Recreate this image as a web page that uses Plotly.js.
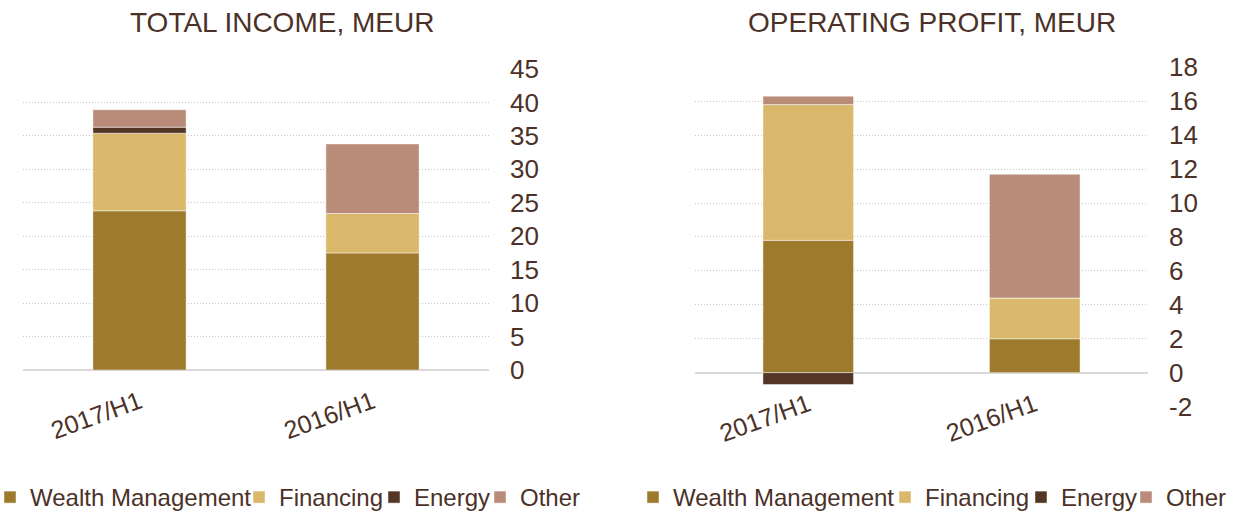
<!DOCTYPE html>
<html>
<head>
<meta charset="utf-8">
<script src="https://cdn.plot.ly/plotly-3.0.1.min.js"></script>
<style>
  html, body { margin: 0; padding: 0; background: #ffffff; }
  #chart { width: 1234px; height: 520px; }
</style>
</head>
<body>
<div id="chart"></div>
<script>
// ---- Data ----
const categories = ['2017/H1', '2016/H1'];
const seriesNames = ['Wealth Management', 'Financing', 'Energy', 'Other'];

// TOTAL INCOME, MEUR
const incomeWealth = [23.8, 17.5];
const incomeFinancing = [11.6, 5.9];
const incomeEnergy = [0.9, 0];
const incomeOther = [2.6, 10.4];

// OPERATING PROFIT, MEUR
const profitWealth = [7.8, 2.0];
const profitFinancing = [8.0, 2.4];
const profitEnergy = [-0.7, 0];
const profitOther = [0.5, 7.3];

const incomeTicks = [0, 5, 10, 15, 20, 25, 30, 35, 40, 45];
const profitTicks = [-2, 0, 2, 4, 6, 8, 10, 12, 14, 16, 18];

// ---- Styles ----
const colors = ['#9E7B2C', '#D9B86C', '#533626', '#B98B79'];
const textColor = '#4B3127';
const fontFamily = '"Liberation Sans", Arial, sans-serif';

const W = 1234, H = 520;
const px = v => v / W;
const py = v => 1 - v / H;

// left edge (px) and entry indentation of each single-entry legend box
const legendLeft = [0, 239, 374, 480, 633, 885, 1021, 1126];
const legendIndent = [-10, 0, 0, 0, 0, 0, 0, 0];

function bars(values, idx, xa, ya, legendIdx) {
  return {
    type: 'bar',
    name: seriesNames[idx],
    x: categories,
    y: values,
    xaxis: xa,
    yaxis: ya,
    legend: legendIdx === 0 ? 'legend' : 'legend' + (legendIdx + 1),
    marker: { color: colors[idx], line: { color: 'rgba(255,255,255,0.45)', width: 1 } },
    hoverinfo: 'skip'
  };
}

const data = [
  bars(incomeWealth, 0, 'x', 'y', 0),
  bars(incomeFinancing, 1, 'x', 'y', 1),
  bars(incomeEnergy, 2, 'x', 'y', 2),
  bars(incomeOther, 3, 'x', 'y', 3),
  bars(profitWealth, 0, 'x2', 'y2', 4),
  bars(profitFinancing, 1, 'x2', 'y2', 5),
  bars(profitEnergy, 2, 'x2', 'y2', 6),
  bars(profitOther, 3, 'x2', 'y2', 7)
];

const yCommon = {
  side: 'right',
  showgrid: true,
  gridcolor: '#c4c4c4',
  griddash: '1px,2px',
  gridwidth: 1,
  zeroline: true,
  zerolinecolor: '#d9d9d9',
  zerolinewidth: 2,
  showline: false,
  ticks: '',
  ticklabelstandoff: 20,
  automargin: false,
  tickfont: { family: fontFamily, size: 26, color: textColor },
  fixedrange: true
};
const xCommon = {
  type: 'category',
  showgrid: false,
  zeroline: false,
  showline: false,
  ticks: '',
  tickangle: -20,
  ticklabelstandoff: 12,
  automargin: false,
  tickfont: { family: fontFamily, size: 25, color: textColor },
  fixedrange: true
};
const legendCommon = {
  orientation: 'h',
  xanchor: 'left',
  yanchor: 'bottom',
  y: 0,
  itemwidth: 30,
  itemclick: false,
  borderwidth: 0,
  font: { family: fontFamily, size: 24, color: textColor },
  bgcolor: 'rgba(0,0,0,0)'
};

const layout = {
  width: W,
  height: H,
  margin: { l: 0, r: 0, t: 0, b: 0, pad: 0 },
  paper_bgcolor: '#ffffff',
  plot_bgcolor: '#ffffff',
  barmode: 'relative',
  bargap: 0.6,
  font: { family: fontFamily, color: textColor },
  xaxis: Object.assign({}, xCommon, { domain: [px(23), px(489)], anchor: 'y' }),
  yaxis: Object.assign({}, yCommon, {
    domain: [py(370), py(69)], anchor: 'x', range: [0, 45],
    tickvals: incomeTicks, ticktext: incomeTicks.map(String)
  }),
  xaxis2: Object.assign({}, xCommon, {
    domain: [px(695), px(1148)], anchor: 'free', position: py(372.7)
  }),
  yaxis2: Object.assign({}, yCommon, {
    domain: [py(406.6), py(67.3)], anchor: 'x2', range: [-2, 18],
    tickvals: profitTicks, ticktext: profitTicks.map(String)
  }),
  annotations: [
    {
      text: 'TOTAL INCOME, MEUR', xref: 'paper', yref: 'paper',
      x: px(282), y: py(23), xanchor: 'center', yanchor: 'middle', showarrow: false,
      font: { family: fontFamily, size: 28, color: textColor }
    },
    {
      text: 'OPERATING PROFIT, MEUR', xref: 'paper', yref: 'paper',
      x: px(932), y: py(23), xanchor: 'center', yanchor: 'middle', showarrow: false,
      font: { family: fontFamily, size: 28, color: textColor }
    }
  ],
  showlegend: true
};

legendLeft.forEach((lx, i) => {
  const key = i === 0 ? 'legend' : 'legend' + (i + 1);
  layout[key] = Object.assign({}, legendCommon, { x: px(lx), indentation: legendIndent[i] });
});

Plotly.newPlot('chart', data, layout, { staticPlot: true, displayModeBar: false });
</script>
</body>
</html>
